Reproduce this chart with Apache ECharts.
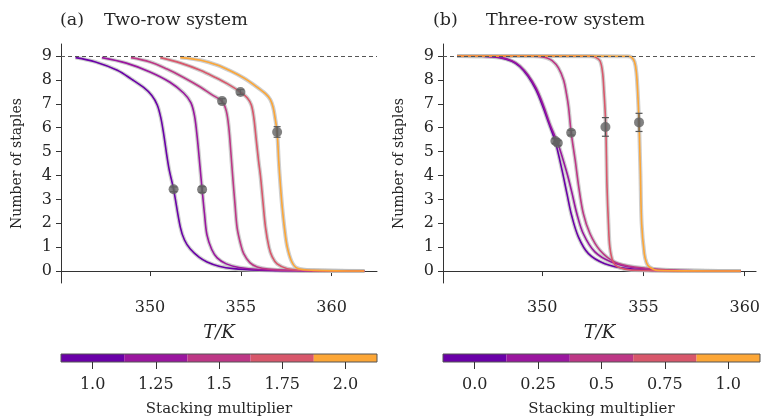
<!DOCTYPE html>
<html>
<head>
<meta charset="utf-8">
<script src="https://cdn.jsdelivr.net/npm/echarts@6/dist/echarts.min.js"></script>
<style>
  html, body { margin: 0; padding: 0; background: #fff; }
  #chart { width: 763px; height: 419px; }
</style>
</head>
<body>
<div id="chart"></div>
<script>
// colours of the five multiplier levels (plasma-like)
const levelColors = ['#6a00a8', '#9a169f', '#bd3786', '#d8576b', '#fca636']

const twoRowLabels = ['1.0', '1.25', '1.5', '1.75', '2.0']
const threeRowLabels = ['0.0', '0.25', '0.5', '0.75', '1.0']
const yTicks = [0, 1, 2, 3, 4, 5, 6, 7, 8, 9]
const xTicks = [350, 355, 360]

// (a) two-row system, [T, staples]
const twoRow10 = [[345.9, 8.93], [347.0, 8.75], [348.2, 8.4], [349.0, 8.02], [349.65, 7.68], [350.1, 7.35], [350.4, 6.95], [350.6, 6.4], [350.75, 5.75], [351.03, 4.35], [351.3, 3.42], [351.67, 1.84], [351.9, 1.3], [352.22, 0.92], [352.7, 0.58], [353.14, 0.38], [353.8, 0.2], [354.6, 0.1], [356, 0.04], [358, 0.01], [361.8, 0]]
const twoRow125 = [[347.35, 8.93], [348.7, 8.7], [350.0, 8.33], [351.1, 7.9], [351.85, 7.45], [352.25, 7.05], [352.45, 6.5], [352.6, 5.6], [352.75, 4.4], [352.87, 3.41], [353.0, 2.4], [353.14, 1.5], [353.4, 0.9], [353.7, 0.55], [354.2, 0.3], [354.9, 0.15], [356, 0.06], [358, 0.02], [361.8, 0]]
const twoRow15 = [[348.95, 8.93], [350.0, 8.75], [350.94, 8.45], [351.85, 8.1], [352.77, 7.7], [353.4, 7.38], [353.97, 7.1], [354.2, 6.7], [354.34, 6.0], [354.45, 5.0], [354.55, 4.0], [354.68, 2.8], [354.8, 1.8], [355.0, 1.1], [355.16, 0.73], [355.5, 0.35], [355.9, 0.17], [356.5, 0.08], [358, 0.02], [361.8, 0]]
const twoRow175 = [[350.57, 8.93], [351.7, 8.7], [352.77, 8.4], [353.6, 8.1], [354.25, 7.84], [354.98, 7.49], [355.35, 7.25], [355.58, 6.95], [355.72, 6.4], [355.85, 5.5], [355.98, 4.6], [356.08, 4.0], [356.22, 2.9], [356.36, 1.84], [356.55, 1.0], [356.73, 0.59], [357.0, 0.3], [357.56, 0.1], [358.5, 0.03], [361.8, 0]]
const twoRow20 = [[351.67, 8.93], [352.8, 8.82], [353.7, 8.62], [354.5, 8.35], [355.16, 8.08], [355.8, 7.75], [356.36, 7.42], [356.62, 7.18], [356.78, 6.85], [356.9, 6.35], [357.0, 5.82], [357.09, 4.6], [357.18, 3.6], [357.28, 2.68], [357.42, 1.7], [357.56, 1.0], [357.8, 0.4], [358.11, 0.12], [359, 0.03], [361.8, 0]]
// midpoints with error, [T, staples, err]
const twoRowPoints = [[351.3, 3.42, 0.1], [352.87, 3.41, 0.12], [353.97, 7.11, 0.1], [354.98, 7.49, 0.1], [357.0, 5.82, 0.22]]

// (b) three-row system
const threeRow00 = [[345.8, 9.0], [347.0, 8.99], [347.9, 8.93], [348.5, 8.78], [348.9, 8.55], [349.3, 8.15], [349.68, 7.6], [350.0, 6.95], [350.33, 6.17], [350.65, 5.4], [350.98, 4.21], [351.22, 3.24], [351.46, 2.3], [351.79, 1.42], [352.28, 0.73], [353.09, 0.31], [354.23, 0.1], [356, 0.02], [359.8, 0]]
const threeRow025 = [[345.8, 9.0], [347.0, 8.99], [347.9, 8.94], [348.5, 8.8], [348.9, 8.58], [349.3, 8.2], [349.7, 7.65], [350.05, 6.95], [350.4, 6.1], [350.78, 5.33], [351.22, 4.1], [351.46, 3.3], [351.71, 2.4], [352.03, 1.56], [352.6, 0.8], [353.41, 0.38], [354.56, 0.14], [356.5, 0.03], [359.8, 0]]
const threeRow05 = [[345.8, 9.0], [348.5, 9.0], [349.84, 8.98], [350.2, 8.92], [350.49, 8.8], [350.8, 8.5], [351.06, 7.98], [351.2, 7.4], [351.3, 6.86], [351.43, 5.79], [351.63, 4.63], [351.79, 3.6], [352.03, 2.4], [352.36, 1.56], [352.85, 0.87], [353.58, 0.38], [354.56, 0.17], [356.5, 0.03], [359.8, 0]]
const threeRow075 = [[345.8, 9.0], [350, 9.0], [352.4, 8.99], [352.6, 8.96], [352.85, 8.8], [352.98, 8.3], [353.05, 7.5], [353.1, 6.8], [353.14, 6.05], [353.17, 4.8], [353.2, 3.51], [353.27, 2.0], [353.34, 1.0], [353.5, 0.38], [353.74, 0.17], [354.4, 0.04], [359.8, 0]]
const threeRow10 = [[345.8, 9.0], [352, 9.0], [354.2, 8.99], [354.4, 8.95], [354.56, 8.75], [354.65, 8.3], [354.72, 7.4], [354.78, 6.23], [354.82, 5.0], [354.85, 4.07], [354.91, 1.98], [355.04, 0.73], [355.15, 0.35], [355.29, 0.17], [355.7, 0.03], [359.8, 0]]
const threeRowPoints = [[350.65, 5.44, 0.1], [350.77, 5.36, 0.1], [351.43, 5.79, 0.1], [353.12, 6.03, 0.39], [354.78, 6.22, 0.38]]

const FONT = '"DejaVu Serif", serif'
const TXT = '#262626'
const AX = '#333'

const chart = echarts.init(document.getElementById('chart'))

function curveSeries(data, color, idx) {
  return [
    {
      type: 'line', xAxisIndex: idx, yAxisIndex: idx, data: data,
      showSymbol: false, smooth: 0.35, z: 2,
      lineStyle: { color: '#bdbdbd', width: 4, opacity: 0.75 }
    },
    {
      type: 'line', xAxisIndex: idx, yAxisIndex: idx, data: data,
      showSymbol: false, smooth: 0.35, z: 3,
      lineStyle: { color: color, width: 1.6 }
    }
  ]
}

function pointSeries(points, idx) {
  return [
    {
      type: 'custom', xAxisIndex: idx, yAxisIndex: idx, z: 4,
      data: points,
      renderItem(params, api) {
        const x = api.value(0), y = api.value(1), e = api.value(2)
        const top = api.coord([x, y + e])
        const bot = api.coord([x, y - e])
        const cap = 3.5
        const st = { stroke: '#555', lineWidth: 1.2 }
        return {
          type: 'group',
          children: [
            { type: 'line', shape: { x1: top[0], y1: top[1], x2: bot[0], y2: bot[1] }, style: st },
            { type: 'line', shape: { x1: top[0] - cap, y1: top[1], x2: top[0] + cap, y2: top[1] }, style: st },
            { type: 'line', shape: { x1: bot[0] - cap, y1: bot[1], x2: bot[0] + cap, y2: bot[1] }, style: st }
          ]
        }
      }
    },
    {
      type: 'scatter', xAxisIndex: idx, yAxisIndex: idx, z: 5,
      data: points.map(p => [p[0], p[1]]),
      symbolSize: 10,
      itemStyle: { color: '#626262' }
    }
  ]
}

function dashSeries(idx) {
  return {
    type: 'line', xAxisIndex: idx, yAxisIndex: idx, data: [], z: 1,
    markLine: {
      silent: true, symbol: 'none', label: { show: false },
      lineStyle: { color: '#555', width: 1, type: [4, 3] },
      data: [{ yAxis: 9 }]
    }
  }
}

function xAxisFor(idx, max) {
  return {
    type: 'value', gridIndex: idx, min: 345.1, max: max,
    name: 'T/K', nameLocation: 'middle', nameGap: 41,
    nameTextStyle: { fontFamily: FONT, fontSize: 18, fontStyle: 'italic', color: TXT },
    axisLine: { show: true, lineStyle: { color: AX } },
    axisTick: { show: true, length: 5, customValues: xTicks, lineStyle: { color: AX } },
    axisLabel: { customValues: xTicks, margin: 17, fontFamily: FONT, fontSize: 16, color: TXT },
    splitLine: { show: false }
  }
}

function yAxisFor(idx) {
  return {
    type: 'value', gridIndex: idx, min: -0.5, max: 9.5,
    name: 'Number of staples', nameLocation: 'middle', nameGap: 37,
    nameTextStyle: { fontFamily: FONT, fontSize: 14, color: TXT },
    axisLine: { show: true, lineStyle: { color: AX } },
    axisTick: { show: true, length: 5, customValues: yTicks, lineStyle: { color: AX } },
    axisLabel: { customValues: yTicks, margin: 9, fontFamily: FONT, fontSize: 16, color: TXT },
    splitLine: { show: false }
  }
}

function barAxisFor(idx, labels) {
  return {
    type: 'category', gridIndex: idx, data: labels,
    name: 'Stacking multiplier', nameLocation: 'middle', nameGap: 40,
    nameTextStyle: { fontFamily: FONT, fontSize: 15, color: TXT },
    axisLine: { show: false },
    axisTick: { show: true, alignWithLabel: true, length: 7, lineStyle: { color: AX } },
    axisLabel: { margin: 15, fontFamily: FONT, fontSize: 16, color: TXT }
  }
}

function colorBar(idx) {
  return {
    type: 'bar', xAxisIndex: idx, yAxisIndex: idx, z: -1,
    barWidth: '100%', barCategoryGap: 0,
    data: levelColors.map(c => ({ value: 1, itemStyle: { color: c } }))
  }
}

const left = [twoRow10, twoRow125, twoRow15, twoRow175, twoRow20]
const right = [threeRow00, threeRow025, threeRow05, threeRow075, threeRow10]

const series = [dashSeries(0), dashSeries(1)]
left.forEach((d, i) => series.push(...curveSeries(d, levelColors[i], 0)))
right.forEach((d, i) => series.push(...curveSeries(d, levelColors[i], 1)))
series.push(...pointSeries(twoRowPoints, 0))
series.push(...pointSeries(threeRowPoints, 1))
series.push(colorBar(2), colorBar(3))

const titleStyle = { fontFamily: FONT, fontSize: 17.5, fontWeight: 'normal', color: TXT }

chart.setOption({
  animation: false,
  title: [
    { text: '(a)', left: 60, top: 11, padding: 0, textStyle: titleStyle },
    { text: 'Two-row system', left: 104, top: 11, padding: 0, textStyle: titleStyle },
    { text: '(b)', left: 433, top: 11, padding: 0, textStyle: titleStyle },
    { text: 'Three-row system', left: 486, top: 11, padding: 0, textStyle: titleStyle }
  ],
  grid: [
    { left: 61, top: 44, width: 316, height: 239 },
    { left: 443, top: 44, width: 317, height: 239 },
    { left: 61, top: 354, width: 316, height: 8, show: true, borderColor: '#555', borderWidth: 1 },
    { left: 443, top: 354, width: 317, height: 8, show: true, borderColor: '#555', borderWidth: 1 }
  ],
  xAxis: [
    xAxisFor(0, 362.5),
    xAxisFor(1, 360.56),
    barAxisFor(2, twoRowLabels),
    barAxisFor(3, threeRowLabels)
  ],
  yAxis: [
    yAxisFor(0),
    yAxisFor(1),
    { type: 'value', gridIndex: 2, min: 0, max: 1, show: false },
    { type: 'value', gridIndex: 3, min: 0, max: 1, show: false }
  ],
  series: series
})
</script>
</body>
</html>
